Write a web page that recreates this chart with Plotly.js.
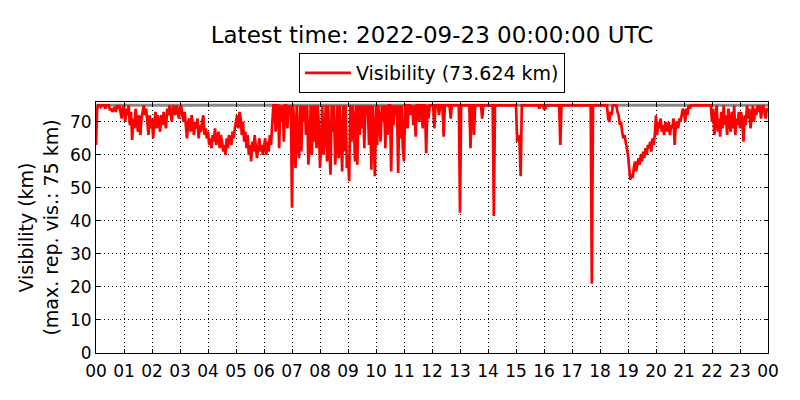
<!DOCTYPE html>
<html>
<head>
<meta charset="utf-8">
<script src="https://cdn.plot.ly/plotly-3.0.1.min.js"></script>
<style>html,body{margin:0;padding:0;background:#fff}#chart{width:800px;height:400px}</style>
</head>
<body>
<div id="chart"></div>
<script>
// Visibility (km), 2.5-minute samples, 2022-09-22 00:00 UTC .. 2022-09-23 00:00 UTC
const startTime = "2022-09-22T00:00:00Z";
const stepMinutes = 2.5;
const visH00 = [63, 74, 75, 75, 74.5, 75, 75, 75, 74, 75, 75, 75, 73.5, 74, 73, 74, 74.5, 73, 75, 74, 75, 73, 71, 74];
const visH01 = [75, 70, 74, 72, 75, 69, 73, 64.5, 71, 68, 74, 70, 67, 72, 66, 71, 73, 75, 72, 74, 70, 66, 72, 68];
const visH02 = [71, 65, 70, 73, 68, 72, 70, 67, 72, 69, 73, 71, 68, 74, 72, 75, 73, 70, 75, 74, 72, 75, 74, 71];
const visH03 = [74, 75, 72, 70, 73, 68, 65, 70, 71, 67, 72, 69, 66, 70, 68, 71, 65, 69, 67, 70, 72, 66, 68, 65];
const visH04 = [67, 63, 65, 62, 66, 64, 68, 63, 65, 67, 62, 66, 64, 61, 63, 60, 65, 62, 66, 64, 63, 67, 65, 68];
const visH05 = [70, 72, 68, 73, 71, 66, 70, 64, 67, 62, 66, 60, 63, 58, 64, 61, 66, 63, 59, 62, 65, 61, 63, 60];
const visH06 = [62, 65, 60, 64, 61, 66, 63, 68, 75, 75, 67, 75, 75, 62, 75, 70, 75, 64, 75, 75, 68, 75, 72, 75];
const visH07 = [44, 75, 68, 56, 75, 63, 59, 75, 61, 75, 70, 75, 66, 75, 57, 62, 75, 60, 75, 64, 75, 62, 75, 69];
const visH08 = [56, 63, 75, 60, 66, 75, 58, 75, 62, 54, 75, 67, 75, 57, 63, 75, 59, 75, 65, 55, 75, 61, 75, 56];
const visH09 = [60, 52, 75, 64, 75, 70, 58, 75, 57, 75, 66, 75, 68, 75, 62, 75, 72, 75, 63, 75, 55.5, 75, 66, 53.5];
const visH10 = [75, 63, 75, 67, 64, 75, 70, 75, 62, 75, 66, 75, 75, 55, 75, 69, 75, 72, 75, 54.5, 75, 65, 75, 62];
const visH11 = [58, 75, 75, 68, 75, 75, 72, 75, 69, 75, 65.5, 75, 75, 70, 75, 75, 68, 75, 75, 60.5, 75, 71, 75, 75];
const visH12 = [75, 75, 68, 75, 75, 75, 72, 75, 75, 75, 65.5, 75, 75, 75, 75, 75, 71, 75, 75, 75, 75, 75, 75, 75];
const visH13 = [42.5, 75, 75, 75, 75, 75, 75, 75, 75, 62, 75, 75, 66, 75, 75, 75, 75, 75, 75, 71, 75, 75, 75, 75];
const visH14 = [75, 75, 75, 75, 75, 41.5, 75, 75, 75, 75, 75, 75, 75, 75, 75, 75, 75, 75, 75, 75, 75, 75, 75, 75];
const visH15 = [75, 64, 66, 64, 53.5, 75, 75, 75, 75, 75, 75, 75, 75, 75, 75, 75, 75, 75, 75, 75, 74, 75, 75, 75];
const visH16 = [74, 74, 75, 75, 75, 75, 75, 75, 75, 75, 75, 75, 75, 75, 63, 75, 75, 75, 75, 75, 75, 75, 75, 75];
const visH17 = [75, 75, 75, 75, 75, 75, 75, 75, 75, 75, 75, 75, 75, 75, 75, 75, 75, 21, 75, 75, 75, 75, 75, 75];
const visH18 = [75, 75, 75, 75, 75, 75, 75, 71, 70, 73, 72, 75, 75, 75, 75, 73, 72, 69, 70, 67, 65, 66, 64, 62];
const visH19 = [60, 56, 52.5, 54, 53, 56, 58, 55, 57, 59, 57, 60, 58, 61, 59, 62, 60, 63, 62, 64, 61, 65, 63, 66];
const visH20 = [72, 66, 70, 68, 71, 67, 69, 66, 70, 68, 67, 70, 66, 69, 68, 71, 63, 69, 70, 68, 71, 70, 72, 74];
const visH21 = [73, 70, 74, 72, 75, 74, 75, 75, 75, 75, 75, 75, 75, 75, 75, 75, 75, 75, 75, 75, 75, 75, 75, 75];
const visH22 = [70, 74, 66, 72, 75, 67, 71, 65.5, 73, 68, 75, 69, 72, 66, 74, 70, 67, 73, 68, 75, 66, 71, 69, 73];
const visH23 = [68, 73, 70, 64, 72, 69, 75, 71, 74, 68, 73, 75, 70, 74, 72, 75, 73, 75, 71, 74, 75, 73, 71, 74];
const visEnd = [73.624];
const maxReportedVis = 75;
const hourTickText = ["00","01","02","03","04","05","06","07","08","09","10","11","12",
                      "13","14","15","16","17","18","19","20","21","22","23","00"];

const visibility = [].concat(visH00, visH01, visH02, visH03, visH04, visH05, visH06, visH07,
  visH08, visH09, visH10, visH11, visH12, visH13, visH14, visH15, visH16, visH17,
  visH18, visH19, visH20, visH21, visH22, visH23, visEnd);
const t0 = Date.parse(startTime);
const times = visibility.map((_, i) => new Date(t0 + i * stepMinutes * 60000).toISOString());
const tickVals = hourTickText.map((_, i) => new Date(t0 + i * 3600000).toISOString());
const latest = visibility[visibility.length - 1];

const font = "DejaVu Sans, sans-serif";
const trace = {
  x: times, y: visibility, type: "scatter", mode: "lines",
  name: "Visibility (" + latest.toFixed(3) + " km)",
  line: {color: "#ff0000", width: 2.7}
};
const layout = {
  width: 800, height: 400,
  margin: {l: 96, r: 32, t: 102, b: 47},
  paper_bgcolor: "#fff", plot_bgcolor: "#fff",
  font: {family: font, size: 17, color: "#000"},
  title: {text: "Latest time: 2022-09-23 00:00:00 UTC", font: {family: font, size: 23, color: "#000"},
          x: 0.54, xanchor: "center", y: 0.9125, yanchor: "middle", yref: "container"},
  showlegend: true,
  legend: {x: 0.5, xanchor: "center", y: 1.195, yanchor: "top", bordercolor: "#000", borderwidth: 1,
           bgcolor: "#fff", itemwidth: 46, font: {family: font, size: 19}},
  xaxis: {type: "date", range: [tickVals[0], tickVals[tickVals.length - 1]],
          tickvals: tickVals, ticktext: hourTickText, ticks: "inside", ticklen: 4, tickcolor: "#000",
          showline: true, linecolor: "#000", linewidth: 1, mirror: "ticks", ticklabelstandoff: 3,
          showgrid: true, gridcolor: "#000", gridwidth: 1, griddash: "1px,3px", zeroline: false,
          tickfont: {family: font, size: 17}},
  yaxis: {range: [0, 76], tickvals: [0,10,20,30,40,50,60,70], ticks: "inside", ticklen: 4, tickcolor: "#000",
          showline: true, linecolor: "#000", linewidth: 1, mirror: "ticks",
          showgrid: true, gridcolor: "#000", gridwidth: 1, griddash: "1px,3px", zeroline: false,
          tickfont: {family: font, size: 17},
          title: {text: "Visibility (km)<br>(max. rep. vis.: " + maxReportedVis + " km)",
                  font: {family: font, size: 19}, standoff: 6}},
  shapes: [{type: "line", xref: "paper", x0: 0, x1: 1, yref: "y", y0: maxReportedVis, y1: maxReportedVis,
            line: {color: "#888888", width: 3}, layer: "below"}]
};
Plotly.newPlot("chart", [trace], layout, {staticPlot: true, displayModeBar: false});
</script>
</body>
</html>
